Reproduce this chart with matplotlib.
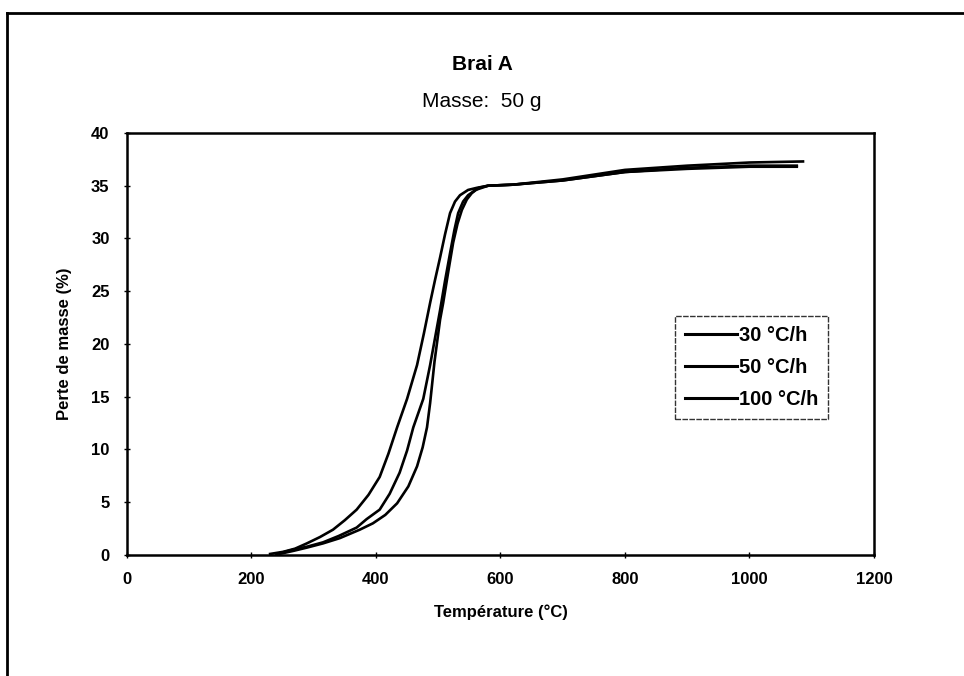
import numpy as np
import matplotlib.pyplot as plt
from matplotlib.lines import Line2D

plt.rcParams['font.family'] = ['Liberation Sans', 'DejaVu Sans']

# courbes : température (°C), perte de masse (%)
t_30 = [230, 251, 270, 289, 310, 331, 350, 369, 388, 406, 420, 434, 450, 466, 477, 487, 495, 503, 511, 519, 527, 535, 548, 562,
        580, 620, 700, 800, 900, 1000, 1076]
p_30 = [0.1, 0.3, 0.6, 1.1, 1.7, 2.4, 3.3, 4.3, 5.7, 7.4, 9.6, 12.1, 14.8, 18.0, 21.0, 23.9, 26.1, 28.2, 30.4, 32.4, 33.5, 34.1, 34.6, 34.8,
        35.0, 35.1, 35.5, 36.3, 36.6, 36.8, 36.8]

t_50 = [240, 267, 290, 315, 340, 369, 385, 406, 422, 438, 450, 460, 476, 487, 495, 503, 511, 519, 526, 532, 540, 548, 560,
        580, 620, 700, 800, 900, 1000, 1076]
p_50 = [0.1, 0.5, 0.8, 1.2, 1.8, 2.6, 3.4, 4.3, 5.8, 7.8, 9.9, 12.1, 14.8, 18.0, 20.6, 23.2, 26.0, 28.6, 30.8, 32.4, 33.5, 34.1, 34.6,
        35.0, 35.1, 35.5, 36.3, 36.7, 36.9, 36.9]

t_100 = [245, 268, 289, 315, 342, 374, 395, 415, 434, 452, 466, 475, 482, 487, 494, 503, 508, 516, 524, 531, 538, 546, 554, 565,
         580, 620, 700, 800, 900, 1000, 1086]
p_100 = [0.1, 0.4, 0.7, 1.1, 1.6, 2.4, 3.0, 3.8, 4.9, 6.5, 8.4, 10.2, 12.1, 14.4, 18.3, 22.3, 23.9, 26.8, 29.6, 31.4, 32.7, 33.7, 34.3, 34.8,
         35.0, 35.1, 35.6, 36.5, 36.9, 37.2, 37.3]

labels = ['30 °C/h', '50 °C/h', '100 °C/h']
x_ticks = [0, 200, 400, 600, 800, 1000, 1200]
y_ticks = [0, 5, 10, 15, 20, 25, 30, 35, 40]

fig = plt.figure(figsize=(9.64, 6.76), dpi=100)
ax = fig.add_axes([0.1317, 0.179, 0.7749, 0.6243])

for t, p, lab in zip([t_30, t_50, t_100], [p_30, p_50, p_100], labels):
    ax.plot(t, p, color='black', lw=1.9, label=lab, solid_joinstyle='round')

ax.set_xlim(0, 1200)
ax.set_ylim(0, 40)
ax.set_xticks(x_ticks)
ax.set_yticks(y_ticks)
ax.tick_params(direction='inout', length=5, width=1, labelsize=12, pad=10)
for lbl in ax.get_xticklabels() + ax.get_yticklabels():
    lbl.set_fontweight('bold')
for s in ax.spines.values():
    s.set_linewidth(1.8)

ax.set_xlabel('Température (°C)', fontsize=12, fontweight='bold', labelpad=12)
ax.set_ylabel('Perte de masse (%)', fontsize=12, fontweight='bold', labelpad=14)

fig.text(0.5, 0.905, 'Brai A', ha='center', va='center', fontsize=15, fontweight='bold')
fig.text(0.5, 0.85, 'Masse:  50 g', ha='center', va='center', fontsize=15)

leg = ax.legend(loc='upper left', bbox_to_anchor=(0.733, 0.566), frameon=True, fancybox=False,
                edgecolor='black', prop={'size': 14.5, 'weight': 'bold'}, handlelength=2.6, handletextpad=0.1,
                labelspacing=0.65, borderpad=0.5, borderaxespad=0)
leg.get_frame().set_linestyle((0, (4, 1)))
leg.get_frame().set_linewidth(1.0)
for h in leg.get_lines():
    h.set_linewidth(2.2)

# cadre extérieur (haut et gauche)
fig.add_artist(Line2D([7 / 964, 7 / 964], [0, 1 - 13 / 676], color='black', lw=2, transform=fig.transFigure))
fig.add_artist(Line2D([7 / 964, 1], [1 - 13 / 676, 1 - 13 / 676], color='black', lw=2, transform=fig.transFigure))

fig.savefig('out.png', dpi=100)
